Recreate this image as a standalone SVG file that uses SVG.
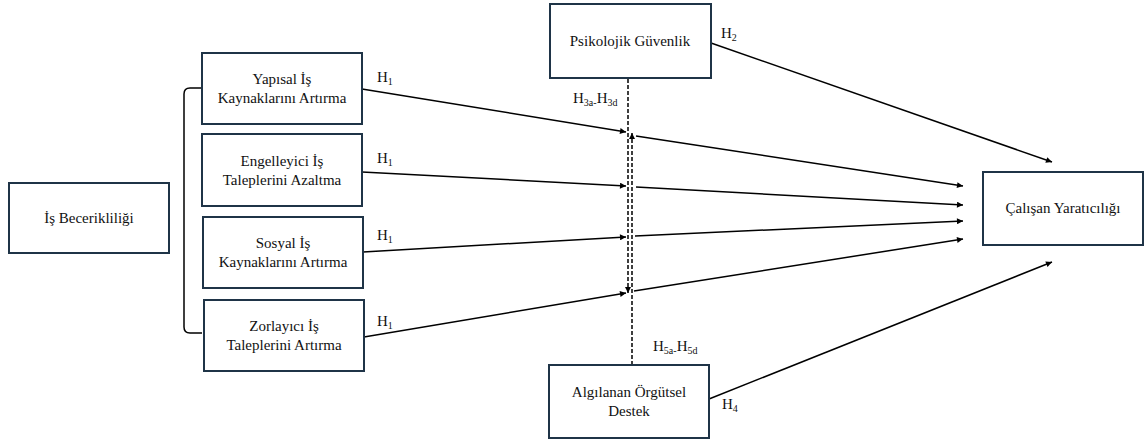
<svg xmlns="http://www.w3.org/2000/svg" width="1144" height="441" viewBox="0 0 1144 441">
<style>
.box{fill:#fff;stroke:#1f3447;stroke-width:2}
.t{font-family:"Liberation Serif","Times New Roman",serif;font-size:15px;fill:#111;text-anchor:middle}
.l{font-family:"Liberation Serif","Times New Roman",serif;font-size:15px;fill:#111}
.s{font-size:10px}
.ln{stroke:#000;stroke-width:1.5;fill:none}
.d{stroke:#000;stroke-width:1.5;fill:none;stroke-dasharray:4 2}
</style>
<defs>
<marker id="ah" viewBox="0 0 10 10" refX="10" refY="5" markerWidth="8" markerHeight="6" markerUnits="userSpaceOnUse" orient="auto">
<path d="M0,0L10,5L0,10z" fill="#000"/>
</marker>
</defs>
<rect width="1144" height="441" fill="#fff"/>
<g id="connectors">
<path class="ln" d="M202,88 H190 Q184,88 184,94 V327 Q184,333 190,333 H202"/>
<line class="ln" x1="362" y1="89" x2="626" y2="132" marker-end="url(#ah)"/>
<line class="ln" x1="362" y1="172" x2="626" y2="186" marker-end="url(#ah)"/>
<line class="ln" x1="363" y1="252" x2="626" y2="237" marker-end="url(#ah)"/>
<line class="ln" x1="364" y1="337" x2="626" y2="293" marker-end="url(#ah)"/>
<line class="ln" x1="636" y1="136" x2="963" y2="186" marker-end="url(#ah)"/>
<line class="ln" x1="636" y1="187" x2="963" y2="205" marker-end="url(#ah)"/>
<line class="ln" x1="635" y1="236" x2="963" y2="221" marker-end="url(#ah)"/>
<line class="ln" x1="634" y1="291" x2="963" y2="239" marker-end="url(#ah)"/>
<line class="ln" x1="711" y1="43" x2="1052" y2="162" marker-end="url(#ah)"/>
<line class="ln" x1="709" y1="399" x2="1052" y2="262" marker-end="url(#ah)"/>
<line class="d" x1="628" y1="79" x2="628" y2="293" marker-end="url(#ah)"/>
<line class="d" x1="632" y1="365" x2="632" y2="133" marker-end="url(#ah)"/>
</g>
<g id="labels">
<text class="l" x="377" y="82">H<tspan class="s" dy="3">1</tspan></text>
<text class="l" x="377" y="163">H<tspan class="s" dy="3">1</tspan></text>
<text class="l" x="377" y="240">H<tspan class="s" dy="3">1</tspan></text>
<text class="l" x="377" y="326">H<tspan class="s" dy="3">1</tspan></text>
<text class="l" x="721" y="38">H<tspan class="s" dy="3">2</tspan></text>
<text class="l" x="722" y="409">H<tspan class="s" dy="3">4</tspan></text>
<text class="l" x="573" y="103">H<tspan class="s" dy="3">3a-</tspan><tspan dy="-3">H</tspan><tspan class="s" dy="3">3d</tspan></text>
<text class="l" x="653" y="351">H<tspan class="s" dy="3">5a-</tspan><tspan dy="-3">H</tspan><tspan class="s" dy="3">5d</tspan></text>
</g>
<g id="is-becerikliligi">
<rect class="box" x="9" y="183" width="160" height="70"/>
<text class="t" x="89" y="223">İş Becerikliliği</text>
</g>
<g id="yapisal">
<rect class="box" x="202" y="53" width="160" height="71"/>
<text class="t" x="282" y="84">Yapısal İş</text>
<text class="t" x="282" y="103">Kaynaklarını Artırma</text>
</g>
<g id="engelleyici">
<rect class="box" x="202" y="134" width="160" height="72"/>
<text class="t" x="282" y="166">Engelleyici İş</text>
<text class="t" x="282" y="185">Taleplerini Azaltma</text>
</g>
<g id="sosyal">
<rect class="box" x="203" y="217" width="160" height="71"/>
<text class="t" x="283" y="248">Sosyal İş</text>
<text class="t" x="283" y="267">Kaynaklarını Artırma</text>
</g>
<g id="zorlayici">
<rect class="box" x="204" y="300" width="160" height="71"/>
<text class="t" x="284" y="331">Zorlayıcı İş</text>
<text class="t" x="284" y="350">Taleplerini Artırma</text>
</g>
<g id="psikolojik">
<rect class="box" x="550" y="4" width="161" height="74"/>
<text class="t" x="630" y="46">Psikolojik Güvenlik</text>
</g>
<g id="algilanan">
<rect class="box" x="549" y="365" width="160" height="73"/>
<text class="t" x="629" y="397">Algılanan Örgütsel</text>
<text class="t" x="629" y="416">Destek</text>
</g>
<g id="calisan">
<rect class="box" x="983" y="172" width="160" height="73"/>
<text class="t" x="1063" y="213">Çalışan Yaratıcılığı</text>
</g>
</svg>
